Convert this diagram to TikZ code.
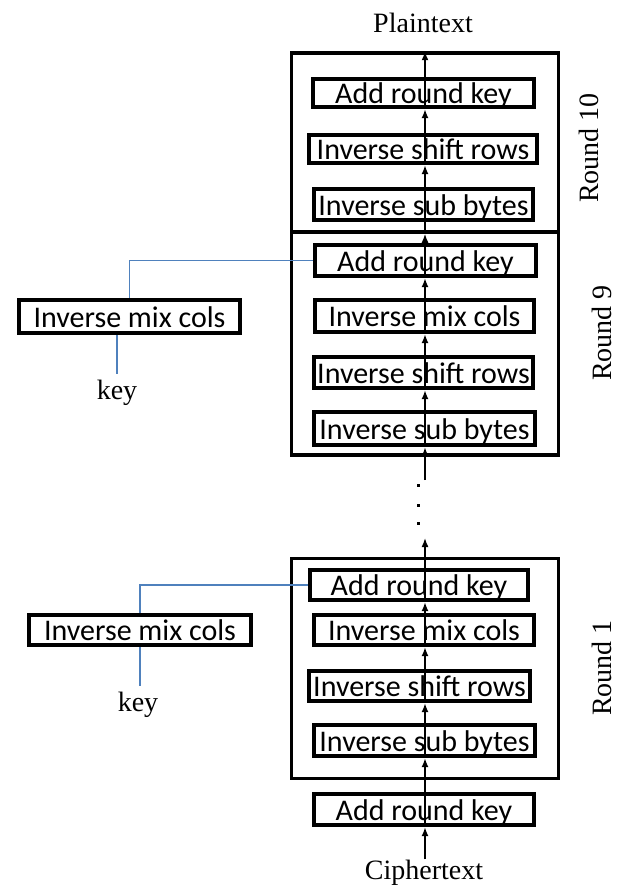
\documentclass[tikz,border=0pt]{standalone}
\usepackage{fontspec}
\setmainfont{Liberation Serif}
\newfontfamily\boxfont{Carlito}
\usetikzlibrary{arrows.meta}
\definecolor{keyblue}{RGB}{79,129,189}
\tikzset{
  opbox/.style={draw, line width=3.8pt, inner sep=0pt,
    font=\boxfont\fontsize{30}{30}\selectfont, text height=23pt, text depth=2pt},
  rbox/.style={draw, line width=3.5pt, inner sep=0pt, minimum width=267pt},
  flow/.style={line width=1.6pt, -{Latex[length=9pt,width=7pt]}},
  keyline/.style={keyblue, line width=1.5pt},
  serif/.style={font=\fontsize{28}{30}\selectfont, inner sep=0pt},
}
\begin{document}
\begin{tikzpicture}[x=1pt,y=-1pt]
\useasboundingbox (0,0) rectangle (617,885);
% round frames
\node[rbox, minimum height=179pt] (r10) at (425,142.5) {};
\node[rbox, minimum height=223pt] (r9) at (425,343.5) {};
\node[rbox, minimum height=220pt] (r1) at (425,668.5) {};
% round 10
\node[opbox, minimum width=221.5pt, minimum height=28.5pt] (ark10) at (423.5,93) {Add round key};
\node[opbox, minimum width=228.5pt, minimum height=28.5pt] (isr10) at (423,149) {Inverse shift rows};
\node[opbox, minimum width=219.5pt, minimum height=31.5pt] (isb10) at (423.5,204.5) {Inverse sub bytes};
% round 9
\node[opbox, minimum width=221.5pt, minimum height=31.5pt] (ark9) at (425.5,260.5) {Add round key};
\node[opbox, minimum width=219.5pt, minimum height=32.5pt] (imc9) at (424.5,316) {Inverse mix cols};
\node[opbox, minimum width=219.5pt, minimum height=31.5pt] (isr9) at (423.5,372.5) {Inverse shift rows};
\node[opbox, minimum width=221.5pt, minimum height=33.5pt] (isb9) at (424.5,428.5) {Inverse sub bytes};
% round 1
\node[opbox, minimum width=218.5pt, minimum height=30.5pt] (ark1) at (419,585) {Add round key};
\node[opbox, minimum width=220.5pt, minimum height=30.5pt] (imc1) at (424,630) {Inverse mix cols};
\node[opbox, minimum width=221.5pt, minimum height=30.5pt] (isr1) at (419.5,686) {Inverse shift rows};
\node[opbox, minimum width=221.5pt, minimum height=31.5pt] (isb1) at (424.5,740.5) {Inverse sub bytes};
% initial add round key
\node[opbox, minimum width=220.5pt, minimum height=31.5pt] (ark0) at (424,809.5) {Add round key};
% key schedule boxes
\node[opbox, minimum width=221.5pt, minimum height=33.5pt] (l9) at (129.5,316.5) {Inverse mix cols};
\node[opbox, minimum width=222.5pt, minimum height=30.5pt] (l1) at (140,630) {Inverse mix cols};
\node[serif] (k9) at (117,393) {key};
\node[serif] (k1) at (138,705) {key};
% texts
\node[serif, anchor=base] (pt) at (423,33) {Plaintext};
\node[serif, anchor=base] (ct) at (424,879) {Ciphertext};
\node[serif, rotate=90] (rl10) at (589,148) {Round 10};
\node[serif, rotate=90] (rl9) at (602,333) {Round 9};
\node[serif, rotate=90] (rl1) at (602,668) {Round 1};
% spine and helper coordinates
\coordinate (sp) at (425,0);
\coordinate (d1) at (425,538);
\coordinate (d2) at (425,480);
\coordinate (k9top) at ([yshift=6pt]k9.north);
\coordinate (k1top) at ([yshift=6pt]k1.north);
% flow arrows
\draw[flow] (ct.north -| sp) -- (ark0.south -| sp);
\draw[flow] (ark0.south -| sp) -- (isb1.south -| sp);
\draw[flow] (isb1.south -| sp) -- (isr1.south -| sp);
\draw[flow] (isr1.south -| sp) -- (imc1.south -| sp);
\draw[flow] (imc1.south -| sp) -- (ark1.south -| sp);
\draw[flow] (ark1.south -| sp) -- (d1);
\draw[flow] (d2) -- (isb9.south -| sp);
\draw[flow] (isb9.south -| sp) -- (isr9.south -| sp);
\draw[flow] (isr9.south -| sp) -- (imc9.south -| sp);
\draw[flow] (imc9.south -| sp) -- (ark9.south -| sp);
\draw[flow] (ark9.south -| sp) -- (r10.south -| sp);
\draw[flow] (r10.south -| sp) -- (isr10.south -| sp);
\draw[flow] (isr10.south -| sp) -- (ark10.south -| sp);
\draw[flow] (ark10.south -| sp) -- (r10.north -| sp);
% dots
\fill (416.5,483.5) rectangle ++(3.5,3.5);
\fill (416.5,503.5) rectangle ++(3.5,3.5);
\fill (416.5,521.5) rectangle ++(3.5,3.5);
% key lines
\draw[keyline] (ark9.west) -| (l9.north);
\draw[keyline] (l9.south -| k9.north) -- (k9top);
\draw[keyline] (ark1.west) -| (l1.north);
\draw[keyline] (l1.south) -- (l1.south |- k1top);
\end{tikzpicture}
\end{document}
